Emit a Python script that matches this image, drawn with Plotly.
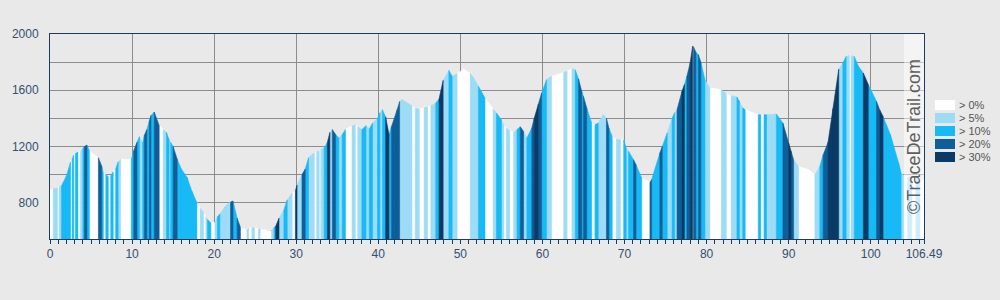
import plotly.graph_objects as go

# ---- data ----
DIST = [0.0, 0.4, 0.9, 1.1, 1.4, 2.0, 2.5, 2.7, 2.9, 3.1, 3.4, 3.7, 4.0, 4.2, 4.5, 4.8, 5.9, 6.3, 6.5, 6.8,
        7.1, 7.4, 7.7, 8.0, 8.3, 8.6, 9.9, 10.2, 10.6, 10.9, 11.3, 11.5, 11.8, 12.1, 12.3, 12.7, 13.3, 13.8, 14.2, 14.5,
        14.7, 15.0, 15.5, 16.0, 16.7, 17.3, 17.9, 18.3, 18.7, 19.0, 19.2, 19.6, 20.1, 20.4, 20.7, 21.3, 21.6, 22.0, 22.3, 22.8,
        23.2, 24.0, 24.2, 24.6, 24.9, 25.4, 25.6, 27.0, 27.3, 27.5, 27.9, 28.5, 28.9, 29.5, 29.9, 30.1, 30.7, 31.1, 31.5, 32.2,
        32.5, 32.8, 33.0, 33.4, 33.8, 34.1, 34.4, 34.8, 35.2, 35.6, 36.0, 36.8, 37.2, 37.5, 38.0, 38.5, 38.9, 39.3, 39.9, 40.2,
        40.5, 40.9, 41.3, 41.6, 42.3, 42.6, 42.9, 44.1, 44.5, 45.0, 45.6, 46.0, 46.4, 47.0, 47.4, 47.9, 48.6, 49.0, 49.6, 50.4,
        51.2, 51.6, 52.2, 53.0, 54.0, 54.4, 55.0, 55.3, 55.6, 56.0, 56.5, 56.9, 57.3, 57.7, 58.1, 58.7, 59.0, 59.5, 59.9, 60.5,
        61.1, 62.6, 63.0, 63.6, 64.0, 64.4, 64.8, 65.0, 65.4, 66.0, 66.4, 66.8, 67.4, 67.8, 68.1, 68.5, 69.0, 69.5, 69.9, 70.2,
        70.5, 71.1, 71.4, 72.1, 73.1, 73.3, 74.3, 74.6, 75.2, 75.8, 76.1, 76.4, 77.0, 77.3, 77.6, 78.0, 78.3, 78.4, 78.7, 79.0,
        79.3, 79.8, 80.4, 81.8, 82.4, 83.0, 83.7, 84.0, 84.4, 84.7, 86.3, 86.6, 87.0, 87.3, 88.5, 89.3, 90.0, 90.3, 90.6, 91.2,
        92.4, 93.2, 93.8, 94.2, 94.8, 95.4, 96.1, 96.6, 97.0, 97.4, 97.6, 98.0, 98.5, 99.1, 99.7, 100.7, 101.1, 101.5, 102.4, 103.4,
        103.7, 104.0, 104.5, 105.0, 105.5, 106.0, 106.49]

ELEV = [890, 900, 905, 910, 920, 990, 1090, 1110, 1140, 1150, 1160, 1165, 1185, 1200, 1210, 1170, 1120, 1060, 1010, 1000,
        985, 990, 1020, 1040, 1090, 1110, 1105, 1170, 1230, 1270, 1225, 1280, 1320, 1380, 1420, 1445, 1350, 1320, 1300, 1250,
        1230, 1200, 1110, 1040, 980, 880, 800, 760, 730, 700, 680, 655, 660, 700, 720, 770, 790, 805, 812, 690,
        625, 603, 620, 622, 622, 615, 612, 600, 625, 632, 690, 750, 820, 870, 885, 925, 1000, 1040, 1120, 1155,
        1160, 1170, 1180, 1190, 1230, 1300, 1320, 1285, 1260, 1285, 1320, 1345, 1355, 1340, 1320, 1348, 1325, 1367, 1400, 1440,
        1462, 1410, 1285, 1340, 1462, 1520, 1535, 1490, 1470, 1466, 1475, 1480, 1490, 1509, 1537, 1670, 1741, 1700, 1718, 1750,
        1720, 1690, 1628, 1545, 1466, 1438, 1390, 1350, 1331, 1310, 1300, 1320, 1340, 1307, 1260, 1331, 1400, 1500, 1580, 1675,
        1699, 1727, 1735, 1755, 1745, 1680, 1590, 1556, 1473, 1367, 1355, 1367, 1426, 1402, 1330, 1272, 1250, 1248, 1248, 1190,
        1165, 1106, 1070, 975, 944, 963, 1153, 1200, 1296, 1402, 1440, 1462, 1592, 1640, 1699, 1794, 1915, 1910, 1870, 1853,
        1800, 1675, 1616, 1604, 1575, 1561, 1552, 1521, 1475, 1462, 1426, 1426, 1426, 1426, 1431, 1367, 1224, 1165, 1106, 1058,
        1035, 999, 1060, 1140, 1230, 1470, 1750, 1794, 1840, 1848, 1845, 1840, 1770, 1722, 1640, 1521, 1460, 1414, 1284, 1082,
        1011, 995, 980, 970, 965, 962, 960]

# slope class of the segment starting at each DIST point (0: >0%, 1: >5%, 2: >10%, 3: >20%, 4: >30%)
SLOPE_CLASS = [0, 1, 0, 1, 2, 2, 0, 2, 0, 2, 0, 1, 2, 3, 2, 0, 3, 2, 0, 2,
               0, 2, 0, 2, 1, 0, 2, 3, 2, 1, 2, 3, 2, 3, 2, 3, 0, 1, 2, 1,
               2, 3, 2, 2, 2, 2, 0, 1, 0, 1, 2, 0, 1, 2, 1, 1, 1, 3, 2, 3,
               0, 1, 0, 1, 0, 1, 0, 1, 2, 4, 1, 2, 1, 0, 4, 1, 3, 2, 1, 0,
               1, 0, 1, 2, 4, 1, 3, 2, 1, 2, 0, 1, 0, 1, 2, 1, 2, 1, 2, 1,
               2, 4, 2, 3, 3, 1, 1, 0, 1, 0, 1, 0, 1, 2, 4, 1, 2, 1, 0, 0,
               1, 1, 2, 0, 1, 2, 1, 0, 1, 0, 1, 2, 3, 1, 2, 3, 4, 3, 2, 1,
               0, 1, 0, 1, 2, 3, 2, 3, 2, 0, 2, 1, 1, 3, 2, 0, 1, 0, 2, 1,
               2, 3, 2, 0, 3, 2, 3, 2, 1, 2, 1, 3, 4, 2, 3, 4, 0, 3, 2, 3,
               2, 1, 0, 1, 0, 1, 2, 1, 2, 0, 2, 0, 2, 1, 2, 3, 4, 3, 1, 0,
               0, 1, 2, 3, 4, 4, 1, 2, 1, 0, 1, 2, 2, 4, 2, 3, 4, 2, 2, 2,
               1, 0, 1, 0, 1, 0]

CLASS_LABELS = ["> 0%", "> 5%", "> 10%", "> 20%", "> 30%"]
X_TICKS = [0, 10, 20, 30, 40, 50, 60, 70, 80, 90, 100, 106.49]
X_TICK_TEXT = ["0", "10", "20", "30", "40", "50", "60", "70", "80", "90", "100", "106.49"]
WATERMARK = "©TraceDeTrail.com"

# ---- styles ----
CLASS_COLORS = ["#FFFFFF", "#9EDCF6", "#18BAF5", "#0E5F99", "#0A3B67"]
BG = "#E9E9E9"
AXIS = "#1C3B5E"
GRID = "#8C8C8C"
TICKFONT = "#34506E"
BASE = 400
Y_RANGE = [542, 2000]

fig = go.Figure()
for c, color in enumerate(CLASS_COLORS):
    xs, ys = [], []
    for i, cls in enumerate(SLOPE_CLASS):
        if cls != c:
            continue
        d0, d1 = DIST[i], DIST[i + 1]
        e0, e1 = ELEV[i], ELEV[i + 1]
        xs += [d0, d0, d1, d1, d0, None]
        ys += [BASE, e0, e1, BASE, BASE, None]
    fig.add_trace(go.Scatter(x=xs, y=ys, mode="lines", fill="toself", fillcolor=color,
                             line=dict(color=color, width=0.6), hoverinfo="skip",
                             showlegend=False, name=CLASS_LABELS[c]))

L, R, T, B = 50, 76, 34, 61
W, H = 1000, 300
pw, ph = W - L - R, H - T - B


def px_x(p):
    return (p - L) / pw


def px_y(p):
    return (H - B - p) / ph


shapes = [dict(type="rect", xref="paper", yref="paper", x0=px_x(904), x1=1, y0=0, y1=1,
               fillcolor="rgba(255,255,255,0.5)", line=dict(width=0), layer="above")]
annotations = [dict(text=WATERMARK, xref="paper", yref="paper", x=px_x(914), y=px_y(137),
                    textangle=-90, showarrow=False, font=dict(family="Liberation Sans, Arial", size=18, color="#5E5E5E"),
                    xanchor="center", yanchor="middle")]
for i, lab in enumerate(CLASS_LABELS):
    top = 100 + 13 * i
    shapes.append(dict(type="rect", xref="paper", yref="paper", x0=px_x(935), x1=px_x(955),
                       y0=px_y(top + 10), y1=px_y(top), fillcolor=CLASS_COLORS[i], line=dict(width=0)))
    annotations.append(dict(text=lab, xref="paper", yref="paper", x=px_x(957), y=px_y(top + 5),
                            xanchor="left", yanchor="middle", showarrow=False,
                            font=dict(family="Liberation Sans, Arial", size=11, color="#555555")))

fig.update_layout(
    width=W, height=H, margin=dict(l=L, r=R, t=T, b=B, pad=0),
    paper_bgcolor=BG, plot_bgcolor=BG, showlegend=False,
    font=dict(family="Liberation Sans, Arial", size=12, color=TICKFONT),
    shapes=shapes, annotations=annotations,
    xaxis=dict(range=[0, 106.49], tickmode="array", tickvals=X_TICKS, ticktext=X_TICK_TEXT,
               showgrid=True, gridcolor=GRID, gridwidth=1, zeroline=False,
               showline=True, linecolor=AXIS, linewidth=1, mirror=True,
               ticks="outside", ticklen=4, tickcolor=AXIS, tickwidth=1,
               minor=dict(dtick=1, tick0=0, ticks="outside", ticklen=4, tickcolor=AXIS, showgrid=False),
               tickfont=dict(size=12, color=TICKFONT), layer="below traces"),
    yaxis=dict(range=Y_RANGE, tickmode="linear", tick0=0, dtick=400,
               showgrid=True, gridcolor=GRID, gridwidth=1, zeroline=False,
               showline=True, linecolor=AXIS, linewidth=1, mirror=True,
               ticks="", ticklabelstandoff=8,
               minor=dict(dtick=200, tick0=0, showgrid=True, gridcolor=GRID, gridwidth=1, ticks=""),
               tickfont=dict(size=12, color=TICKFONT), layer="below traces"),
)

fig.write_html("out.html")
